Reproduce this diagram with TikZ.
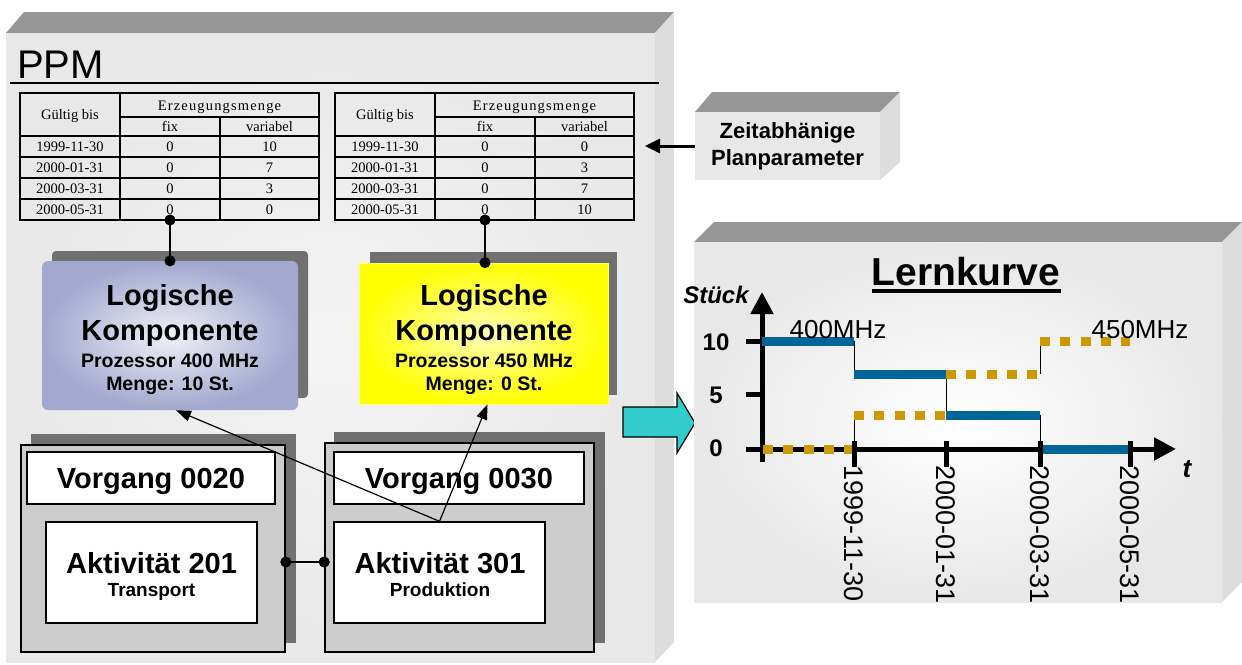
\documentclass[tikz,border=0pt]{standalone}
\usepackage{fontspec}
\setmainfont{Liberation Sans}
\newfontfamily\tabfont{Liberation Serif}
\newfontfamily\tabfontsp[LetterSpace=8]{Liberation Serif}
\usetikzlibrary{arrows.meta,calc}
\definecolor{topgray}{HTML}{969696}
\definecolor{sidegray}{HTML}{DDDDDD}
\definecolor{frontgray}{HTML}{E8E8E8}
\definecolor{frontlight}{HTML}{F4F4F4}
\definecolor{shadowgray}{HTML}{707070}
\definecolor{vgray}{HTML}{CCCCCC}
\definecolor{lkblue}{HTML}{A2A8CE}
\definecolor{lkbluec}{HTML}{F0F0F8}
\definecolor{lkyel}{HTML}{FFFF00}
\definecolor{lkyelc}{HTML}{FFFFB8}
\definecolor{curveblue}{HTML}{006699}
\definecolor{curveorange}{HTML}{CC9900}
\definecolor{arrowcyan}{HTML}{33CCCC}
\tikzset{
  fnt/.style 2 args={font=\fontsize{#1}{#2}\selectfont},
  fntb/.style 2 args={font=\fontsize{#1}{#2}\selectfont\bfseries},
  fntbi/.style 2 args={font=\fontsize{#1}{#2}\selectfont\bfseries\itshape},
  tabline/.style={line width=1.5pt},
  tabtxt/.style={anchor=base, inner sep=0pt, font=\tabfont\fontsize{14.5}{17}\selectfont},
  tabtxtsp/.style={anchor=base, inner sep=0pt, font=\tabfontsp\fontsize{14.5}{17}\selectfont},
  topface/.style={fill=topgray},
  sideface/.style={fill=sidegray},
  shadowrect/.style={fill=shadowgray},
  vgbox/.style={draw=black, line width=1.6pt, fill=vgray},
  whitebox/.style={draw=black, line width=1.3pt, fill=white},
  basetxt/.style={anchor=base, inner sep=0pt},
  dotlink/.style={line width=1.2pt, {Circle[length=11pt]}-{Circle[length=11pt]}, shorten <=-5.5pt, shorten >=-5.5pt},
  reflink/.style={line width=1.2pt, -{Triangle[length=15pt,width=11pt]}},
  blueseg/.style={curveblue, line width=9pt},
  orangeseg/.style={curveorange, line width=9pt, dash pattern=on 10pt off 10.25pt},
  stepline/.style={line width=1pt},
  chartaxis/.style={line width=5pt, -{Triangle[length=22pt,width=22pt]}},
  axtick/.style={line width=5pt},
  datelab/.style={anchor=west, inner sep=0pt, rotate=-90, font=\fontsize{27}{31}\selectfont},
}
\newcommand\ppmtable[5]{%
  \draw[tabline] (20,93) rectangle (319,220);
  \draw[tabline] (120,93) -- (120,220);
  \draw[tabline] (220,117) -- (220,220);
  \draw[tabline] (120,117) -- (319,117);
  \foreach \yy in {136,157,178,199} \draw[tabline] (20,\yy) -- (319,\yy);
  \node[tabtxt] (#1h1) at (70,119) {Gültig bis};
  \node[tabtxtsp] (#1h2) at (219.5,110) {Erzeugungsmenge};
  \node[tabtxt] (#1h3) at (170,131.5) {fix};
  \node[tabtxt] (#1h4) at (269.5,131.5) {variabel};
  \foreach \dt/\vv [count=\ii] in {1999-11-30/#2, 2000-01-31/#3, 2000-03-31/#4, 2000-05-31/#5} {
    \node[tabtxt] (#1d\ii) at (70,130.5+21*\ii) {\dt};
    \node[tabtxt] (#1f\ii) at (170,130.5+21*\ii) {0};
    \node[tabtxt] (#1v\ii) at (269.5,130.5+21*\ii) {\vv};
  }
}
\begin{document}
\begin{tikzpicture}[x=1pt,y=-1pt]
\useasboundingbox (0,0) rectangle (1242,664);
% ---------------- PPM block
\fill[topface] (6,33) -- (24,12) -- (674,12) -- (655,33) -- cycle;
\fill[sideface] (655,33) -- (674,12) -- (674,642) -- (655,662) -- cycle;
\shade[inner color=frontlight, outer color=frontgray] (6,33) rectangle (655,662);
\node[basetxt, anchor=base west, fnt={40}{46}] (ppm) at (17,78) {PPM};
\draw[line width=1.5pt] (10,83) -- (659,83);
% tables
\ppmtable{ta}{10}{7}{3}{0}
\begin{scope}[shift={(315,0)}]
\ppmtable{tb}{0}{3}{7}{10}
\end{scope}
\coordinate (ta-pin) at (170,220);
\coordinate (tb-pin) at (485,220);
% Logische Komponente 1
\fill[shadowrect, rounded corners=4pt] (52,251) rectangle (308,398);
\node[shade, inner color=lkbluec, outer color=lkblue, rounded corners=6pt,
      minimum width=256pt, minimum height=149pt] (lk1) at (170,335.5) {};
\node[basetxt, fntb={29}{34}] (lk1a) at (170,305) {Logische};
\node[basetxt, fntb={29}{34}] (lk1b) at (170,340) {Komponente};
\node[basetxt, fntb={19.5}{23}] (lk1c) at (170,367) {Prozessor 400 MHz};
\node[basetxt, fntb={19.5}{23}] (lk1d) at (170,390) {Menge: 10 St.};
% Logische Komponente 2
\fill[shadowrect] (370,252) rectangle (617,395);
\node[shade, inner color=lkyelc, outer color=lkyel, draw=lkyel!60!white, line width=0.8pt,
      minimum width=249pt, minimum height=141pt] (lk2) at (483.5,333.5) {};
\node[basetxt, fntb={29}{34}] (lk2a) at (484,305) {Logische};
\node[basetxt, fntb={29}{34}] (lk2b) at (484,340) {Komponente};
\node[basetxt, fntb={19.5}{23}] (lk2c) at (484,367) {Prozessor 450 MHz};
\node[basetxt, fntb={19.5}{23}] (lk2d) at (484,390) {Menge: 0 St.};
% table pins
\draw[dotlink] (ta-pin) -- (ta-pin |- lk1.north);
\draw[dotlink] (tb-pin) -- (tb-pin |- lk2.north);
% Vorgang 0020
\fill[shadowrect] (31,434) rectangle (296,643);
\node[vgbox, minimum width=264pt, minimum height=207pt] (vg1) at (153,548.5) {};
\node[whitebox, minimum width=248pt, minimum height=52pt, fntb={29}{34}, text depth=0pt] (vg1h) at (151,478) {Vorgang 0020};
\node[whitebox, minimum width=211pt, minimum height=101pt] (ak1) at (151.5,572.5) {};
\node[basetxt, fntb={29}{34}] (ak1a) at (151.5,573) {Aktivität 201};
\node[basetxt, fntb={19}{23}] (ak1b) at (151.5,596) {Transport};
% Vorgang 0030
\fill[shadowrect] (334,432) rectangle (605,643);
\node[vgbox, minimum width=269pt, minimum height=209pt] (vg2) at (459.5,547.5) {};
\node[whitebox, minimum width=250pt, minimum height=52pt, fntb={29}{34}, text depth=0pt] (vg2h) at (459,478) {Vorgang 0030};
\node[whitebox, minimum width=211pt, minimum height=101pt] (ak2) at (439.5,572.5) {};
\node[basetxt, fntb={29}{34}] (ak2a) at (440,573) {Aktivität 301};
\node[basetxt, fntb={19}{23}] (ak2b) at (440,596) {Produktion};
% links
\coordinate (lnky) at (300,562);
\draw[dotlink] (vg1.east |- lnky) -- (vg2.west |- lnky);
\draw[reflink] (ak2.north) -- ([xshift=6pt]lk1.south);
\draw[reflink] (ak2.north) -- ([xshift=4pt]lk2.south);
% ---------------- Zeitabhaenige Planparameter
\fill[topface] (695,112) -- (712,92) -- (900,92) -- (880,112) -- cycle;
\fill[sideface] (880,112) -- (900,92) -- (900,162) -- (880,180) -- cycle;
\node[fill=frontgray, minimum width=185pt, minimum height=68pt, align=center, fntb={22}{27}] (zp) at (787.5,146) {Zeitabhänige\\Planparameter};
\coordinate (zpend) at (645,146);
\draw[line width=3pt, -{Triangle[length=15pt,width=14pt]}] (zp.west) -- (zpend);
% ---------------- cyan arrow
\draw[fill=arrowcyan, line width=1.2pt, line join=miter] (623,407) -- (677,407) -- (677,393) -- (695,423) -- (677,453) -- (677,437) -- (623,437) -- cycle;
% ---------------- Lernkurve block
\fill[topface] (694,242) -- (714,222) -- (1242,222) -- (1222,242) -- cycle;
\fill[sideface] (1222,242) -- (1242,222) -- (1242,582) -- (1222,602) -- cycle;
\shade[inner color=white, outer color=frontgray] (694,242) rectangle (1222,602);
\node[basetxt, fntb={39}{46}] (lt) at (966,285) {Lernkurve};
\draw[line width=4.5pt] ([yshift=-6pt]lt.base west) -- ([yshift=-6pt]lt.base east);
% axes
\coordinate (xstart) at (746,449);
\coordinate (xend) at (1176,449);
\coordinate (ystart) at (762,462);
\coordinate (yend) at (762,292);
\draw[chartaxis] (xstart) -- (xend);
\draw[chartaxis] (ystart) -- (yend);
% thin step lines
\draw[stepline] (854,341) -- (854,374);
\draw[stepline] (946,374) -- (946,415);
\draw[stepline] (1040,415) -- (1040,449);
\draw[stepline] (854,449) -- (854,415);
\draw[stepline] (1040,374) -- (1040,341);
% curves
\draw[blueseg] (762,341) -- (854,341);
\draw[blueseg] (854,374) -- (946,374);
\draw[blueseg] (946,415) -- (1040,415);
\draw[blueseg] (1040,449) -- (1130,449);
\draw[orangeseg] (763,449) -- (854,449);
\draw[orangeseg] (854,415) -- (946,415);
\draw[orangeseg] (946,374) -- (1040,374);
\draw[orangeseg] (1040,341) -- (1130,341);
% ticks
\foreach \xx in {854,946,1040,1130} \draw[axtick] (\xx,441) -- (\xx,467);
\draw[axtick] (746,341) -- (762,341);
\draw[axtick] (746,394) -- (762,394);
% labels
\node[basetxt, fntbi={24}{28}] (ylab) at (716,303) {Stück};
\node[basetxt, fntb={24}{28}] (y10) at (716,350) {10};
\node[basetxt, fntb={24}{28}] (y5) at (716,403) {5};
\node[basetxt, fntb={24}{28}] (y0) at (716,456) {0};
\node[basetxt, fnt={26}{30}] (m400) at (838,338) {400MHz};
\node[basetxt, fnt={26}{30}] (m450) at (1140,338) {450MHz};
\node[basetxt, fntbi={26}{30}] (tlab) at (1187,477) {t};
\node[datelab] (dl1) at (854,465) {1999-11-30};
\node[datelab] (dl2) at (946,465) {2000-01-31};
\node[datelab] (dl3) at (1040,465) {2000-03-31};
\node[datelab] (dl4) at (1130,465) {2000-05-31};
\end{tikzpicture}
\end{document}
